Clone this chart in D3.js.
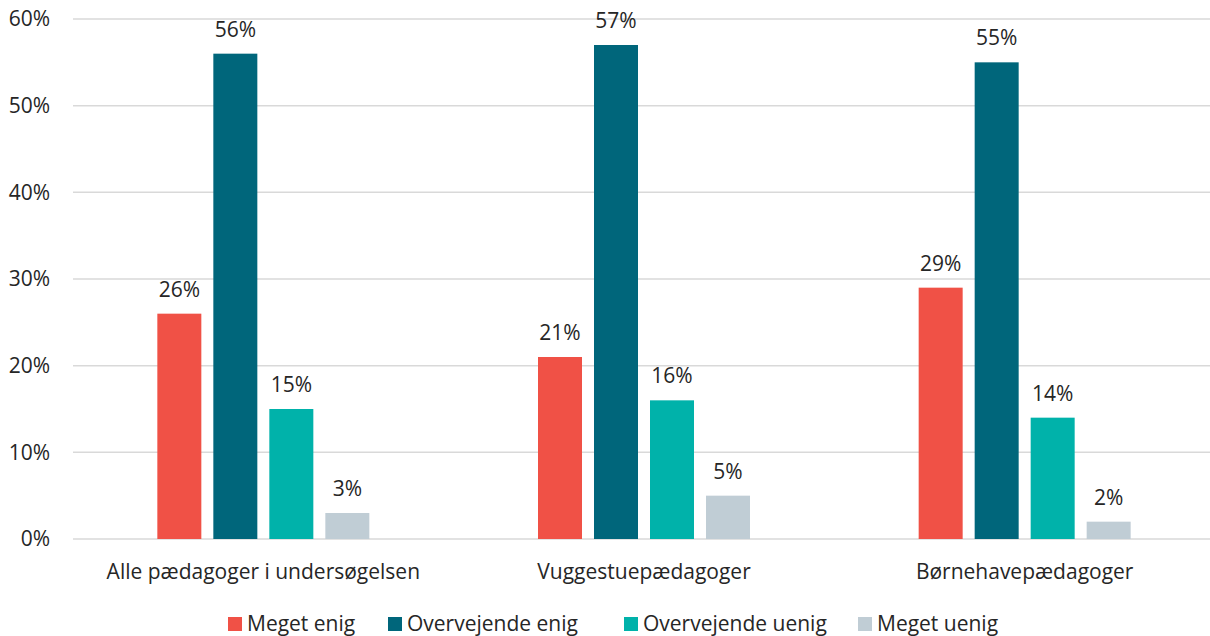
<!DOCTYPE html>
<html>
<head>
<meta charset="utf-8">
<script src="https://cdn.jsdelivr.net/npm/d3@7"></script>
<style>
  body { margin: 0; background: #fff; }
  svg text { font-family: "Open Sans", sans-serif; fill: #262626; }
</style>
</head>
<body>
<svg id="chart" width="1210" height="636"></svg>
<script>
// chart data
const categories = ['Alle pædagoger i undersøgelsen', 'Vuggestuepædagoger', 'Børnehavepædagoger'];
const series = ['Meget enig', 'Overvejende enig', 'Overvejende uenig', 'Meget uenig'];
const colors = ['#f05146', '#00667b', '#00b2aa', '#c0cdd5'];
const megetEnig = [26, 21, 29];
const overvejendeEnig = [56, 57, 55];
const overvejendeUenig = [15, 16, 14];
const megetUenig = [3, 5, 2];
const yTicks = [0, 10, 20, 30, 40, 50, 60];

const values = [megetEnig, overvejendeEnig, overvejendeUenig, megetUenig];
const fontSize = '21px';

const svg = d3.select('#chart');

// scales
const x0 = d3.scaleBand().domain(categories).range([73, 1215]);
const x1 = d3.scaleBand().domain(series).range([0, 224])
    .paddingInner(12 / 56).paddingOuter(6 / 56);
const y = d3.scaleLinear().domain([0, 60]).range([539, 19]);
const color = d3.scaleOrdinal().domain(series).range(colors);

// gridlines
svg.append('g').selectAll('line')
    .data(yTicks)
    .enter().append('line')
    .attr('x1', 73)
    .attr('x2', 1210)
    .attr('y1', d => y(d))
    .attr('y2', d => y(d))
    .attr('stroke', '#d9d9d9')
    .attr('stroke-width', 1.5);

// y tick labels
svg.append('g').selectAll('text')
    .data(yTicks)
    .enter().append('text')
    .attr('x', 50)
    .attr('y', d => y(d))
    .attr('dy', '0.35em')
    .attr('text-anchor', 'end')
    .style('font-size', fontSize)
    .text(d => d + '%');

// bars, one group per category
const groups = svg.append('g').selectAll('g')
    .data(categories)
    .enter().append('g')
    .attr('transform', d => `translate(${x0(d) + x0.bandwidth() / 2 - 112},0)`);

groups.selectAll('rect')
    .data((c, i) => series.map((s, j) => ({ s, v: values[j][i] })))
    .enter().append('rect')
    .attr('x', d => x1(d.s))
    .attr('width', x1.bandwidth())
    .attr('y', d => y(d.v))
    .attr('height', d => y(0) - y(d.v))
    .attr('fill', d => color(d.s));

// value labels
groups.selectAll('text')
    .data((c, i) => series.map((s, j) => ({ s, v: values[j][i] })))
    .enter().append('text')
    .attr('x', d => x1(d.s) + x1.bandwidth() / 2)
    .attr('y', d => y(d.v) - 17)
    .attr('text-anchor', 'middle')
    .style('font-size', fontSize)
    .text(d => d.v + '%');

// category labels
svg.append('g').selectAll('text')
    .data(categories)
    .enter().append('text')
    .attr('x', d => x0(d) + x0.bandwidth() / 2)
    .attr('y', 572)
    .attr('dy', '0.35em')
    .attr('text-anchor', 'middle')
    .style('font-size', fontSize)
    .text(d => d);

// legend
const legendX = [228, 388, 624, 858];
const legend = svg.append('g').selectAll('g')
    .data(series)
    .enter().append('g')
    .attr('transform', (d, i) => `translate(${legendX[i]},617)`);

legend.append('rect')
    .attr('width', 14)
    .attr('height', 14)
    .attr('fill', d => color(d));

legend.append('text')
    .attr('x', 19)
    .attr('y', 7)
    .attr('dy', '0.35em')
    .style('font-size', fontSize)
    .text(d => d);
</script>
</body>
</html>
